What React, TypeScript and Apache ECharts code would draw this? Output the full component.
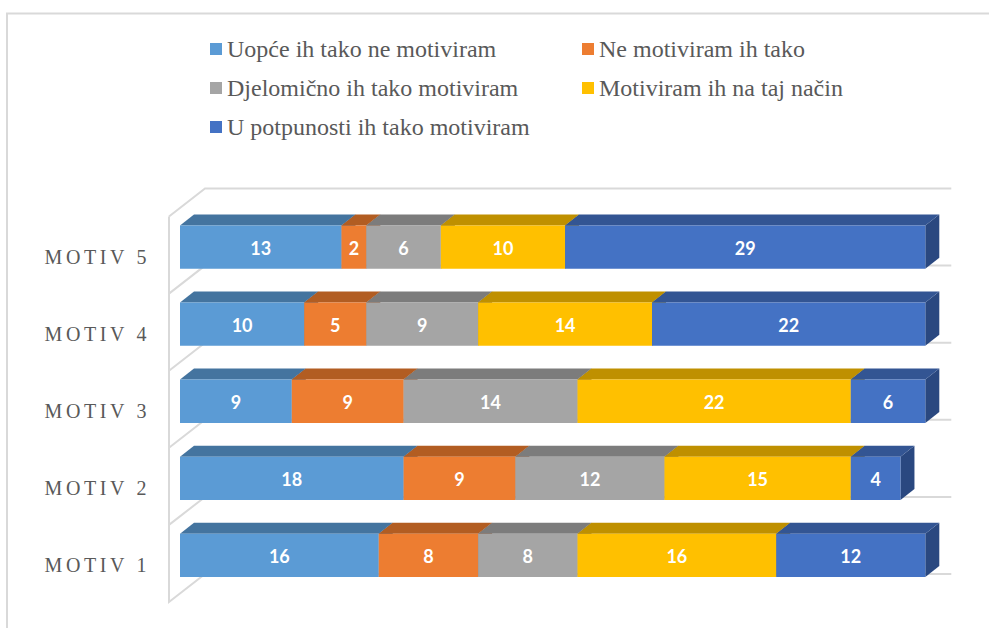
import React, { useEffect, useRef } from "react";
import * as echarts from "echarts";

const categories = ["MOTIV 1", "MOTIV 2", "MOTIV 3", "MOTIV 4", "MOTIV 5"];
const seriesNames = [
  "Uopće ih tako ne motiviram",
  "Ne motiviram ih tako",
  "Djelomično ih tako motiviram",
  "Motiviram ih na taj način",
  "U potpunosti ih tako motiviram",
];
const uopce = [16, 18, 9, 10, 13];
const neMotiviram = [8, 9, 9, 5, 2];
const djelomicno = [8, 12, 14, 9, 6];
const motiviram = [16, 15, 22, 14, 10];
const potpunosti = [12, 4, 6, 22, 29];
const seriesValues = [uopce, neMotiviram, djelomicno, motiviram, potpunosti];

const frontColors = ["#5B9BD5", "#ED7D31", "#A5A5A5", "#FFC000", "#4472C4"];
const topColors = ["#44749F", "#B25D22", "#7C7C7C", "#BF9000", "#335593"];
const sideColors = ["#3A6590", "#9C5120", "#6C6C6C", "#A67D00", "#2A4880"];
const legendPositions = [
  [210, 37],
  [582, 37],
  [210, 76],
  [582, 76],
  [210, 115],
];

const DX = 14;
const DY = 11;

export default function App() {
  const ref = useRef<HTMLDivElement>(null);
  useEffect(() => {
    const chart = echarts.init(ref.current!, null, { renderer: "svg" });

    const wall = {
      type: "custom",
      silent: true,
      z: 1,
      data: categories.map((_, i) => [0, i]),
      encode: { x: 0, y: 1 },
      renderItem: (_p: any, api: any) => {
        const i = api.value(1);
        const [x0, c] = api.coord([0, i]);
        const band = api.size([0, 1])[1];
        const xEnd = api.coord([60, i])[0] + 26;
        const lx = x0 - 11;
        const bx = x0 + 25;
        const line = { stroke: "#D9D9D9", lineWidth: 2, fill: "none" };
        const bot = c + band / 2;
        const children: any[] = [
          { type: "polyline", shape: { points: [[lx, bot - band + 8], [lx, bot + 8], [bx, bot - 20], [xEnd, bot - 20]] }, style: line },
        ];
        if (i === categories.length - 1) {
          children.push({ type: "polyline", shape: { points: [[lx, bot - band + 8], [bx, bot - band - 20], [xEnd, bot - band - 20]] }, style: line });
        }
        return { type: "group", children };
      },
    };

    const bars = seriesNames.map((name, s) => ({
      type: "custom",
      name,
      z: 2,
      itemStyle: { color: frontColors[s] },
      data: categories.map((_, i) => {
        let start = 0;
        for (let k = 0; k < s; k++) start += seriesValues[k][i];
        return [start, start + seriesValues[s][i], i, seriesValues[s][i]];
      }),
      encode: { x: [0, 1], y: 2 },
      renderItem: (_p: any, api: any) => {
        const a = api.coord([api.value(0), api.value(2)]);
        const b = api.coord([api.value(1), api.value(2)]);
        const h = api.size([0, 1])[1] * 0.5616;
        const top = a[1] - h / 2;
        const bottom = a[1] + h / 2;
        const x0 = a[0];
        const x1 = b[0];
        return {
          type: "group",
          children: [
            { type: "polygon", shape: { points: [[x1, top], [x1 + DX, top - DY], [x1 + DX, bottom - DY], [x1, bottom]] }, style: { fill: sideColors[s] } },
            { type: "polygon", shape: { points: [[x0, top], [x0 + DX, top - DY], [x1 + DX, top - DY], [x1, top]] }, style: { fill: topColors[s] } },
            { type: "rect", shape: { x: x0, y: top, width: x1 - x0, height: h }, style: { fill: frontColors[s] } },
            {
              type: "text",
              style: {
                x: (x0 + x1) / 2,
                y: a[1] + 0.5,
                text: String(api.value(3)),
                fill: "#FFFFFF",
                font: 'bold 18px Lato, "Open Sans", sans-serif',
                textAlign: "center",
                textVerticalAlign: "middle",
              },
            },
          ],
        };
      },
    }));

    chart.setOption({
      animation: false,
      backgroundColor: "#FFFFFF",
      legend: seriesNames.map((name, s) => ({
        data: [{ name, icon: "rect", itemStyle: { color: frontColors[s] } }],
        left: legendPositions[s][0],
        top: legendPositions[s][1],
        padding: 0,
        itemWidth: 12,
        itemHeight: 12,
        itemGap: 0,
        selectedMode: false,
        textStyle: {
          fontFamily: '"Liberation Serif", serif',
          fontSize: 24,
          color: "#595959",
        },
      })),
      grid: { left: 180, right: 989 - 925.3, top: 208.5, bottom: 34, containLabel: false },
      xAxis: { type: "value", min: 0, max: 60, show: false },
      yAxis: {
        type: "category",
        data: categories,
        axisLine: { show: false },
        axisTick: { show: false },
        splitLine: { show: false },
        axisLabel: {
          margin: 30,
          fontFamily: '"Liberation Serif", serif',
          fontSize: 20,
          color: "#595959",
          verticalAlign: "top",
        },
      },
      graphic: [
        {
          type: "polyline",
          silent: true,
          shape: { points: [[7, 628], [7, 13.5], [989, 13.5]] },
          style: { stroke: "#D9D9D9", lineWidth: 2, fill: "none" },
        },
      ],
      series: [wall, ...bars],
    });

    ref.current!.querySelectorAll("text").forEach((t) => {
      if ((t.textContent || "").startsWith("MOTIV")) {
        (t as SVGTextElement).style.letterSpacing = "3.6px";
      }
    });

    return () => chart.dispose();
  }, []);
  return <div ref={ref} style={{ position: "fixed", left: 0, top: 0, width: 989, height: 628 }} />;
}
